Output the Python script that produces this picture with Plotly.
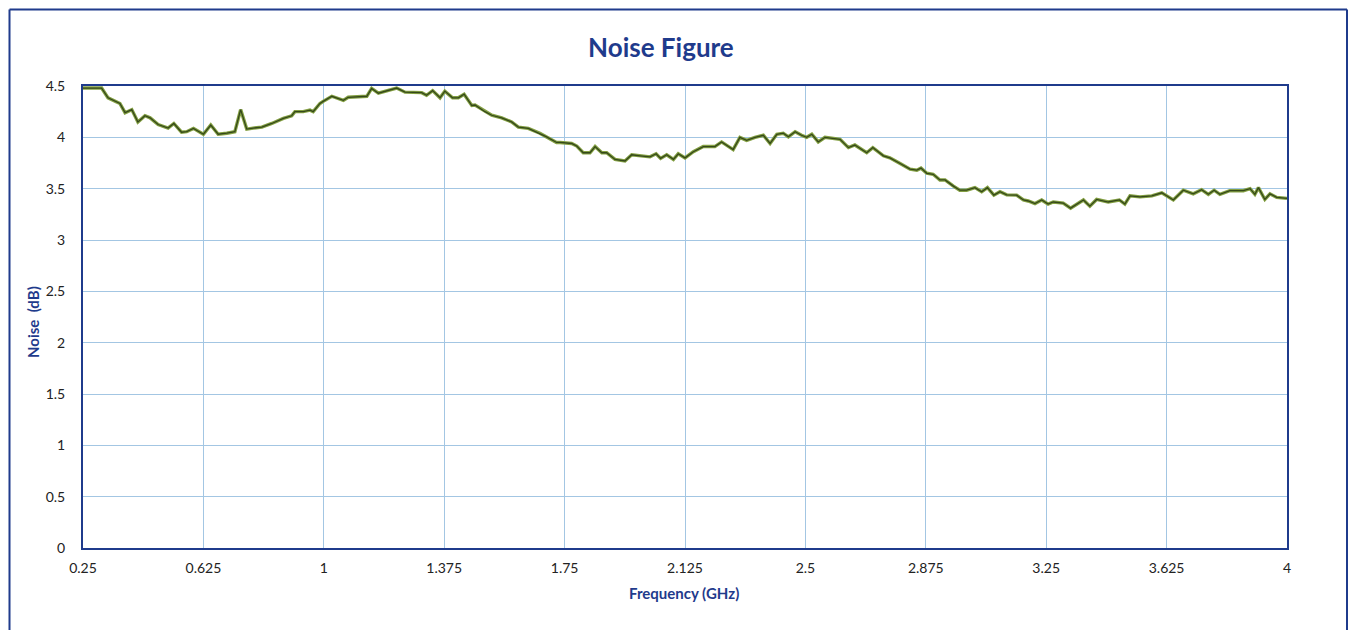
import plotly.graph_objects as go

freq_ghz = [0.25, 0.308, 0.328, 0.365, 0.381, 0.402, 0.421, 0.443, 0.459, 0.484,
            0.515, 0.533, 0.557, 0.573, 0.594, 0.625, 0.648, 0.671, 0.698, 0.723,
            0.741, 0.760, 0.780, 0.807, 0.838, 0.874, 0.900, 0.910, 0.936, 0.957,
            0.967, 0.988, 0.998, 1.025, 1.061, 1.076, 1.134, 1.149, 1.170, 1.201,
            1.227, 1.253, 1.289, 1.305, 1.320, 1.339, 1.362, 1.377, 1.401, 1.419,
            1.437, 1.461, 1.471, 1.502, 1.523, 1.554, 1.585, 1.606, 1.637, 1.673,
            1.694, 1.725, 1.736, 1.772, 1.788, 1.808, 1.829, 1.845, 1.866, 1.881,
            1.907, 1.938, 1.959, 1.985, 2.016, 2.035, 2.049, 2.068, 2.089, 2.104,
            2.125, 2.151, 2.182, 2.218, 2.239, 2.275, 2.296, 2.317, 2.343, 2.369,
            2.390, 2.411, 2.431, 2.447, 2.468, 2.488, 2.504, 2.520, 2.540, 2.561,
            2.608, 2.634, 2.654, 2.691, 2.710, 2.743, 2.763, 2.795, 2.826, 2.847,
            2.860, 2.878, 2.898, 2.919, 2.935, 2.961, 2.981, 3.002, 3.028, 3.049,
            3.067, 3.087, 3.106, 3.127, 3.158, 3.179, 3.194, 3.215, 3.236, 3.256,
            3.272, 3.303, 3.326, 3.366, 3.386, 3.407, 3.443, 3.478, 3.495, 3.511,
            3.542, 3.579, 3.610, 3.646, 3.677, 3.708, 3.734, 3.755, 3.773, 3.791,
            3.822, 3.864, 3.885, 3.900, 3.911, 3.931, 3.947, 3.968, 4.0]

noise_db = [4.48, 4.48, 4.385, 4.33, 4.24, 4.27, 4.15, 4.21, 4.19, 4.125,
            4.09, 4.135, 4.05, 4.055, 4.087, 4.03, 4.12, 4.03, 4.04, 4.055,
            4.27, 4.08, 4.09, 4.10, 4.135, 4.185, 4.21, 4.25, 4.25, 4.265,
            4.25, 4.33, 4.35, 4.40, 4.36, 4.39, 4.40, 4.476, 4.43, 4.46,
            4.48, 4.44, 4.435, 4.435, 4.41, 4.455, 4.385, 4.45, 4.385, 4.385,
            4.42, 4.31, 4.315, 4.25, 4.215, 4.19, 4.15, 4.10, 4.087, 4.04,
            4.005, 3.95, 3.95, 3.94, 3.915, 3.85, 3.85, 3.91, 3.85, 3.85,
            3.785, 3.77, 3.83, 3.82, 3.81, 3.84, 3.795, 3.83, 3.785, 3.84,
            3.80, 3.86, 3.91, 3.91, 3.955, 3.88, 4.0, 3.97, 4.0, 4.02,
            3.94, 4.03, 4.04, 4.005, 4.055, 4.02, 4.0, 4.03, 3.955, 4.0,
            3.98, 3.90, 3.925, 3.85, 3.90, 3.82, 3.80, 3.745, 3.69, 3.68,
            3.70, 3.65, 3.64, 3.585, 3.585, 3.525, 3.485, 3.485, 3.51, 3.47,
            3.51, 3.437, 3.47, 3.44, 3.437, 3.39, 3.38, 3.355, 3.39, 3.35,
            3.37, 3.36, 3.31, 3.39, 3.33, 3.395, 3.37, 3.39, 3.35, 3.43,
            3.42, 3.43, 3.46, 3.39, 3.485, 3.45, 3.49, 3.445, 3.485, 3.445,
            3.48, 3.48, 3.50, 3.445, 3.51, 3.395, 3.45, 3.415, 3.405]

x_ticks = [0.25, 0.625, 1, 1.375, 1.75, 2.125, 2.5, 2.875, 3.25, 3.625, 4]
x_tick_labels = ["0.25", "0.625", "1", "1.375", "1.75", "2.125", "2.5", "2.875", "3.25", "3.625", "4"]
y_ticks = [0, 0.5, 1, 1.5, 2, 2.5, 3, 3.5, 4, 4.5]
y_tick_labels = ["0", "0.5", "1", "1.5", "2", "2.5", "3", "3.5", "4", "4.5"]

FONT = "Lato, 'Open Sans', sans-serif"
DARK_BLUE = "#1f3b8c"
GRID = "#a3c6e3"
OFF = 8  # page body offset
L, T = 83 - OFF, 86 - OFF
PW, PH = 1204, 462
PB = T + PH  # plot bottom in figure px


def px_x(fx):
    return (fx - L) / PW


def px_y(fy):
    return (PB - fy) / PH


fig = go.Figure()
fig.add_trace(go.Scatter(x=freq_ghz, y=noise_db, mode="lines",
                         line=dict(color="#839f42", width=3.4), hoverinfo="skip",
                         showlegend=False))
fig.add_trace(go.Scatter(x=freq_ghz, y=noise_db, mode="lines",
                         line=dict(color="#34481a", width=1.3), name="Noise",
                         showlegend=False))

border = dict(color=DARK_BLUE, width=2)
RX = 1339
fig.update_layout(
    width=1357, height=630,
    margin=dict(l=L, r=1357 - L - PW, t=T, b=630 - T - PH),
    paper_bgcolor="white", plot_bgcolor="white",
    font=dict(family=FONT, color="#222222"),
    title=dict(text="<b>Noise Figure</b>", x=0.48, xref="paper", xanchor="center",
               y=1 - (48 - OFF) / 630, yref="container", yanchor="middle",
               font=dict(family=FONT, size=26, color=DARK_BLUE)),
    xaxis=dict(range=[0.25, 4], tickmode="array", tickvals=x_ticks, ticktext=x_tick_labels,
               showgrid=True, gridcolor=GRID, gridwidth=1.2, zeroline=False,
               showline=True, linecolor=DARK_BLUE, linewidth=2, mirror=True,
               ticks="", tickfont=dict(size=14, color="#222222"), ticklabelstandoff=6),
    yaxis=dict(range=[0, 4.5], tickmode="array", tickvals=y_ticks, ticktext=y_tick_labels,
               showgrid=True, gridcolor=GRID, gridwidth=1.2, zeroline=False,
               showline=True, linecolor=DARK_BLUE, linewidth=2, mirror=True,
               ticks="", tickfont=dict(size=14, color="#222222"), ticklabelstandoff=13),
    annotations=[
        dict(text="<b>Frequency (GHz)</b>", xref="paper", yref="paper",
             x=0.499, y=(548 - 593) / 462, xanchor="center", yanchor="middle",
             showarrow=False, font=dict(family=FONT, size=15, color=DARK_BLUE)),
        dict(text="<b>Noise  (dB)</b>", xref="paper", yref="paper",
             x=(33 - 83) / 1204, y=(548 - 322) / 462, xanchor="center", yanchor="middle",
             textangle=-90, showarrow=False, font=dict(family=FONT, size=15, color=DARK_BLUE)),
    ],
    shapes=[
        dict(type="line", xref="paper", yref="paper", x0=px_x(1.5), x1=px_x(1.5),
             y0=px_y(1.5), y1=px_y(630), line=border, layer="above"),
        dict(type="line", xref="paper", yref="paper", x0=px_x(1.5), x1=px_x(RX),
             y0=px_y(1.5), y1=px_y(1.5), line=border, layer="above"),
        dict(type="line", xref="paper", yref="paper", x0=px_x(RX), x1=px_x(RX),
             y0=px_y(1.5), y1=px_y(630), line=border, layer="above"),
    ],
)

fig.write_html("out.html")
